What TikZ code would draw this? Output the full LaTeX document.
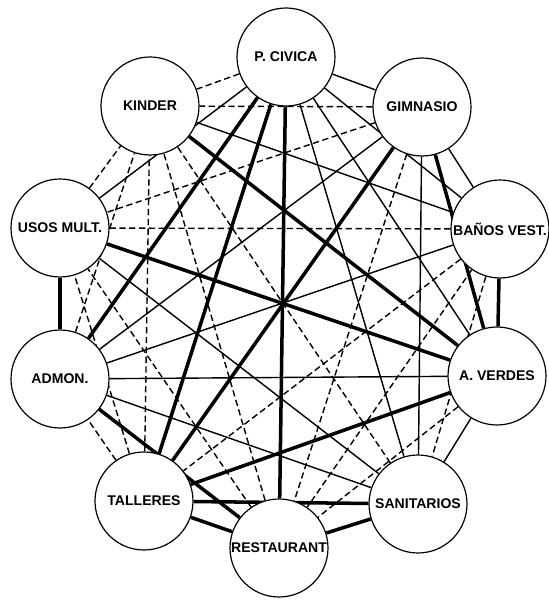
\documentclass[tikz,border=0pt]{standalone}
\usepackage{fontspec}
\newfontfamily\rotulo{Liberation Sans}
\usetikzlibrary{backgrounds}

\begin{document}
\begin{tikzpicture}[
zona/.style={circle,draw,line width=0.85pt,fill=white,minimum size=2.45cm,inner sep=0pt,font=\rotulo\bfseries\fontsize{10}{12}\selectfont},
fuerte/.style={line width=2.5pt},
media/.style={line width=1pt},
debil/.style={line width=1pt,dash pattern=on 4.5pt off 2.5pt}
]
\useasboundingbox (0,0) rectangle (13.7,15);

\node[zona] (civica) at (7.15,13.575) {P. CIVICA};
\node[zona] (gimnasio) at (10.55,12.325) {GIMNASIO};
\node[zona] (banos) at (12.5,9.275) {BAÑOS VEST.};
\node[zona] (verdes) at (12.425,5.6) {A. VERDES};
\node[zona] (sanitarios) at (10.45,2.4) {SANITARIOS};
\node[zona] (restaurant) at (6.975,1.3) {RESTAURANT};
\node[zona] (talleres) at (3.6,2.475) {TALLERES};
\node[zona] (admon) at (1.5,5.525) {ADMON.};
\node[zona] (usos) at (1.5,9.3) {USOS MULT.};
\node[zona] (kinder) at (3.75,12.35) {KINDER};

\begin{scope}[on background layer]
\draw[debil] (civica) -- (kinder);
\draw[media] (civica) -- (usos);
\draw[fuerte] (civica) -- (admon);
\draw[fuerte] (civica) -- (talleres);
\draw[fuerte] (civica) -- (restaurant);
\draw[media] (civica) -- (sanitarios);
\draw[media] (civica) -- (verdes);
\draw[media] (civica) -- (banos);
\draw[media] (civica) -- (gimnasio);

\draw[debil] (gimnasio) -- (kinder);
\draw[debil] (gimnasio) -- (usos);
\draw[media] (gimnasio) -- (admon);
\draw[fuerte] (gimnasio) -- (talleres);
\draw[debil] (gimnasio) -- (restaurant);
\draw[media] (gimnasio) -- (sanitarios);
\draw[fuerte] (gimnasio) -- (verdes);
\draw[media] (gimnasio) -- (banos);

\draw[media] (banos) -- (kinder);
\draw[debil] (banos) -- (usos);
\draw[media] (banos) -- (admon);
\draw[debil] (banos) -- (talleres);
\draw[debil] (banos) -- (restaurant);
\draw[debil] (banos) -- (sanitarios);
\draw[fuerte] (banos) -- (verdes);

\draw[fuerte] (verdes) -- (kinder);
\draw[fuerte] (verdes) -- (usos);
\draw[media] (verdes) -- (admon);
\draw[fuerte] (verdes) -- (talleres);
\draw[debil] (verdes) -- (restaurant);
\draw[media] (verdes) -- (sanitarios);

\draw[debil] (sanitarios) -- (kinder);
\draw[media] (sanitarios) -- (usos);
\draw[media] (sanitarios) -- (admon);
\draw[fuerte] (sanitarios) -- (talleres);
\draw[fuerte] (sanitarios) -- (restaurant);

\draw[debil] (restaurant) -- (kinder);
\draw[debil] (restaurant) -- (usos);
\draw[fuerte] (restaurant) -- (admon);
\draw[fuerte] (restaurant) -- (talleres);

\draw[debil] (talleres) -- (kinder);
\draw[debil] (talleres) -- (usos);
\draw[debil] (talleres) -- (admon);

\draw[debil] (admon) -- (kinder);
\draw[fuerte] (admon) -- (usos);

\draw[debil] (usos) -- (kinder);
\end{scope}
\end{tikzpicture}
\end{document}
